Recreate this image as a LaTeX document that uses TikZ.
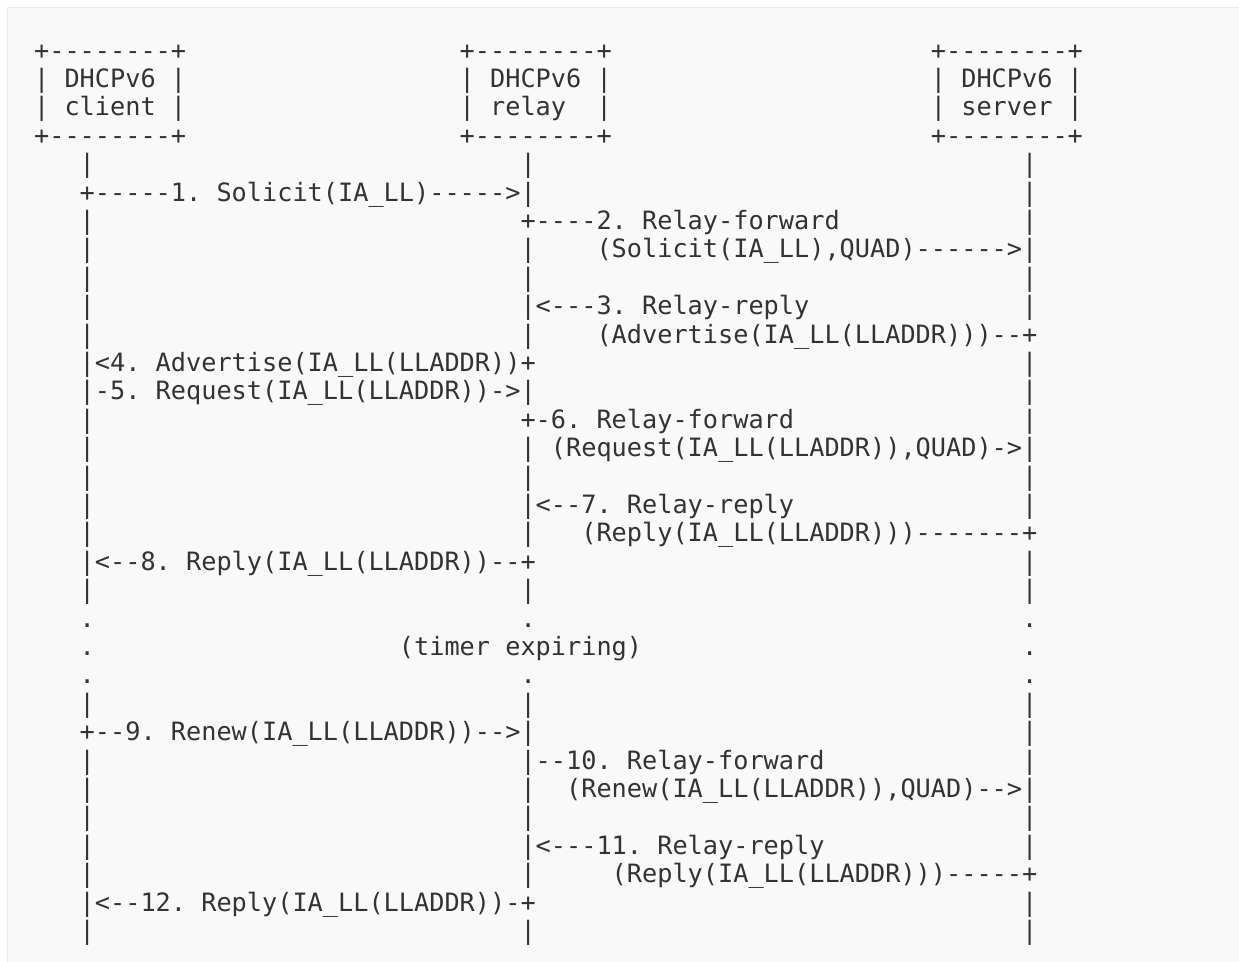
\documentclass[tikz,border=0pt]{standalone}
\usepackage{fontspec}
\setmonofont{DejaVu Sans Mono}
\definecolor{pagebg}{HTML}{F9F9F9}
\definecolor{pageborder}{HTML}{EBEBEB}
\definecolor{ink}{HTML}{333333}
\tikzset{
  asciitxt/.style={anchor=base west, inner sep=0pt, outer sep=0pt, text=ink,
    font=\ttfamily\fontsize{25.25pt}{28.4pt}\selectfont\frenchspacing},
}
% place text segment at row #1, column #2
\newcommand{\seg}[3]{\node[asciitxt] (r#1c#2) at ({34.1+15.2*#2},{-(59+28.4*(#1-1))}) {#3};}
\newcommand{\lifes}[2]{\seg{#1}{3}{#2}\seg{#1}{32}{#2}\seg{#1}{65}{#2}}
\begin{document}
\begin{tikzpicture}[x=1pt,y=1pt]
\useasboundingbox (0,0) rectangle (1239,-961);
\clip (0,0) rectangle (1239,-961);
\draw[pageborder, fill=pagebg, line width=1.2pt] (7.5,-7.5) rectangle (1260,-980);
% boxes
\seg{1}{0}{+--------+}\seg{1}{28}{+--------+}\seg{1}{59}{+--------+}
\seg{2}{0}{| DHCPv6 |}\seg{2}{28}{| DHCPv6 |}\seg{2}{59}{| DHCPv6 |}
\seg{3}{0}{| client |}\seg{3}{28}{| relay}\seg{3}{37}{|}\seg{3}{59}{| server |}
\seg{4}{0}{+--------+}\seg{4}{28}{+--------+}\seg{4}{59}{+--------+}
% rows
\lifes{5}{|}
\seg{6}{3}{+-----1. Solicit(IA\_LL)----->|}\seg{6}{65}{|}
\seg{7}{3}{|}\seg{7}{32}{+----2. Relay-forward}\seg{7}{65}{|}
\seg{8}{3}{|}\seg{8}{32}{|}\seg{8}{37}{(Solicit(IA\_LL),QUAD)------>|}
\lifes{9}{|}
\seg{10}{3}{|}\seg{10}{32}{|<---3. Relay-reply}\seg{10}{65}{|}
\seg{11}{3}{|}\seg{11}{32}{|}\seg{11}{37}{(Advertise(IA\_LL(LLADDR)))--+}
\seg{12}{3}{|<4. Advertise(IA\_LL(LLADDR))+}\seg{12}{65}{|}
\seg{13}{3}{|-5. Request(IA\_LL(LLADDR))->|}\seg{13}{65}{|}
\seg{14}{3}{|}\seg{14}{32}{+-6. Relay-forward}\seg{14}{65}{|}
\seg{15}{3}{|}\seg{15}{32}{|}\seg{15}{34}{(Request(IA\_LL(LLADDR)),QUAD)->|}
\lifes{16}{|}
\seg{17}{3}{|}\seg{17}{32}{|<--7. Relay-reply}\seg{17}{65}{|}
\seg{18}{3}{|}\seg{18}{32}{|}\seg{18}{36}{(Reply(IA\_LL(LLADDR)))-------+}
\seg{19}{3}{|<--8. Reply(IA\_LL(LLADDR))--+}\seg{19}{65}{|}
\lifes{20}{|}
\lifes{21}{.}
\seg{22}{3}{.}\seg{22}{24}{(timer expiring)}\seg{22}{65}{.}
\lifes{23}{.}
\lifes{24}{|}
\seg{25}{3}{+--9. Renew(IA\_LL(LLADDR))-->|}\seg{25}{65}{|}
\seg{26}{3}{|}\seg{26}{32}{|--10. Relay-forward}\seg{26}{65}{|}
\seg{27}{3}{|}\seg{27}{32}{|}\seg{27}{35}{(Renew(IA\_LL(LLADDR)),QUAD)-->|}
\lifes{28}{|}
\seg{29}{3}{|}\seg{29}{32}{|<---11. Relay-reply}\seg{29}{65}{|}
\seg{30}{3}{|}\seg{30}{32}{|}\seg{30}{38}{(Reply(IA\_LL(LLADDR)))-----+}
\seg{31}{3}{|<--12. Reply(IA\_LL(LLADDR))-+}\seg{31}{65}{|}
\lifes{32}{|}
\end{tikzpicture}
\end{document}
